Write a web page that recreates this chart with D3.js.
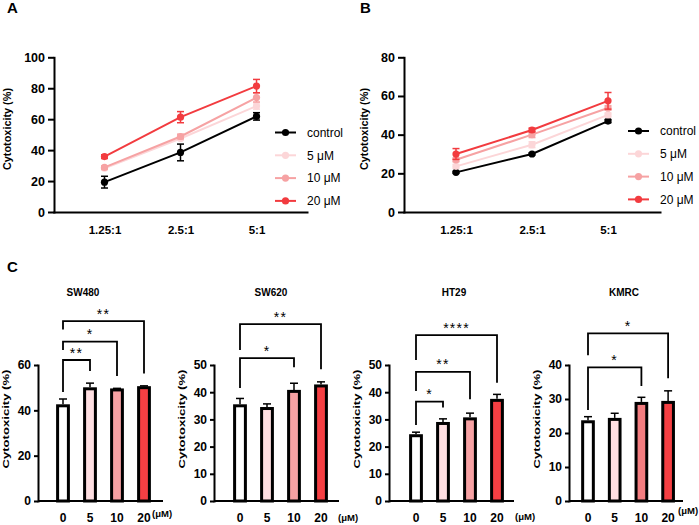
<!DOCTYPE html>
<html>
<head>
<meta charset="utf-8">
<script src="https://cdn.jsdelivr.net/npm/d3@7"></script>
<style>
  body { margin: 0; background: #fff; }
  text { font-family: "Liberation Sans", Arial, sans-serif; }
</style>
</head>
<body>
<div id="chart"></div>
<script>
// ---- data ----
let ratios = ["1.25:1", "2.5:1", "5:1"];
let groups = ["control", "5 μM", "10 μM", "20 μM"];

// panel A (mean, error) per group, per ratio
let aMean = [[19.3, 38.5, 61.8], [28.3, 47.5, 68.5], [28.8, 48.8, 74], [35.8, 61.3, 81.4]];
let aErr  = [[3.8, 5.4, 2.4], [1, 1, 2], [1, 1.5, 2.9], [1.2, 3.6, 4.3]];
// panel B
let bMean = [[20.5, 30, 47], [23.6, 34.8, 50.2], [27, 40, 53.8], [30, 42.4, 57.5]];
let bErr  = [[0.5, 0.5, 0.8], [1, 1.5, 1], [1, 1.5, 1.2], [2.8, 1, 4.3]];

// panel C
let doses = ["0", "5", "10", "20"];
let cellLines = ["SW480", "SW620", "HT29", "KMRC"];
let barMean = [[42, 49.5, 49, 50], [35, 34, 40.3, 42.3], [24, 28.5, 30.2, 37], [23.3, 24, 28.7, 29]];
let barErr  = [[3, 2.5, 0.7, 0.8], [2.7, 1.7, 3, 1.5], [1.3, 1.7, 2.1, 2.2], [1.5, 1.8, 1.8, 3.4]];
let barMax  = [60, 50, 50, 40];
let barStep = [20, 10, 10, 10];
// significance brackets: from dose a to dose b, bar height y, leg ends l / r (data units)
let sig = [
  [{a: "0", b: "5", label: "**", y: 62.2, l: 48.1, r: 57.4},
   {a: "0", b: "10", label: "*", y: 70.3, l: 66.6, r: 55.1},
   {a: "0", b: "20", label: "**", y: 79.4, l: 75.7, r: 56.3}],
  [{a: "0", b: "10", label: "*", y: 52.5, l: 41.5, r: 49.2},
   {a: "0", b: "20", label: "**", y: 65, l: 55.5, r: 48.4}],
  [{a: "0", b: "5", label: "*", y: 36.5, l: 27.9, r: 34.4},
   {a: "0", b: "10", label: "**", y: 47.5, l: 40.4, r: 37.4},
   {a: "0", b: "20", label: "****", y: 61, l: 51.8, r: 43.5}],
  [{a: "0", b: "10", label: "*", y: 39.3, l: 26.8, r: 33.8},
   {a: "0", b: "20", label: "*", y: 49.3, l: 42.9, r: 36.1}]
];

// ---- styles ----
let lineColors = ["#000000", "#fcd6d8", "#f6a2a3", "#f23b3f"];
let barFills = [
  ["#ffffff", "#ffdfe2", "#f7a1a3", "#f53f43"],
  ["#ffffff", "#ffdfe2", "#f7a1a3", "#f53f43"],
  ["#ffffff", "#ffdfe2", "#f7a1a3", "#f53f43"],
  ["#ffffff", "#ffdfe2", "#f47d80", "#f53f43"]
];

let svg = d3.select("#chart")
  .append("svg")
  .attr("width", 699)
  .attr("height", 525)
  .style("background", "#fff");

function styleAxis(g, size) {
  g.select(".domain").attr("stroke", "#000").attr("stroke-width", 2).attr("stroke-linecap", "square");
  g.selectAll(".tick line").attr("stroke", "#000").attr("stroke-width", 2);
  g.selectAll(".tick text")
    .attr("fill", "#000")
    .style("font-size", size + "px")
    .style("font-weight", "bold")
    .style("font-family", "'Liberation Sans', Arial, sans-serif");
}

function panelLetter(t, x, y) {
  svg.append("text").attr("x", x).attr("y", y).text(t)
    .style("font-size", "15px").style("font-weight", "bold");
}

// ---- line panels ----
function linePanel(p) {
  let top = 57.3, bottom = 212;
  let x = d3.scalePoint().domain(ratios).range([p.x0, p.x1]).padding(p.pad);
  let y = d3.scaleLinear().domain([0, p.yMax]).range([bottom, top]);

  let gy = svg.append("g")
    .attr("transform", "translate(" + p.x0 + ",0)")
    .call(d3.axisLeft(y).tickValues(d3.range(0, p.yMax + 1, 20)).tickSize(6).tickPadding(3).tickSizeOuter(0));
  styleAxis(gy, 12.5);

  let gx = svg.append("g")
    .attr("transform", "translate(0," + bottom + ")")
    .call(d3.axisBottom(x).tickSize(0).tickPadding(13.5).tickSizeOuter(0));
  styleAxis(gx, 11.5);

  svg.append("text")
    .attr("transform", "translate(" + p.titleX + "," + 129 + ") rotate(-90)")
    .attr("text-anchor", "middle")
    .attr("dy", "0.35em")
    .attr("textLength", 82)
    .attr("lengthAdjust", "spacingAndGlyphs")
    .style("font-size", "10px").style("font-weight", "bold")
    .text("Cytotoxicity (%)");

  let line = d3.line().x((d, i) => x(ratios[i])).y((d) => y(d));

  groups.forEach((gname, gi) => {
    let c = lineColors[gi];
    let g = svg.append("g");
    g.append("path")
      .datum(p.mean[gi])
      .attr("d", line)
      .attr("fill", "none")
      .attr("stroke", c)
      .attr("stroke-width", 2);
    p.mean[gi].forEach((m, i) => {
      let cx = x(ratios[i]);
      let e = p.err[gi][i];
      g.append("line").attr("x1", cx).attr("x2", cx).attr("y1", y(m - e)).attr("y2", y(m + e))
        .attr("stroke", c).attr("stroke-width", 1.5);
      [m - e, m + e].forEach((v) => {
        g.append("line").attr("x1", cx - 3.5).attr("x2", cx + 3.5).attr("y1", y(v)).attr("y2", y(v))
          .attr("stroke", c).attr("stroke-width", 1.5);
      });
      g.append("circle").attr("cx", cx).attr("cy", y(m)).attr("r", 3.6).attr("fill", c);
    });

    // legend
    let ly = p.legY + gi * 22.8;
    svg.append("line").attr("x1", p.legX).attr("x2", p.legX + 21).attr("y1", ly).attr("y2", ly)
      .attr("stroke", c).attr("stroke-width", 2);
    svg.append("circle").attr("cx", p.legX + 10.5).attr("cy", ly).attr("r", 3.6).attr("fill", c);
    svg.append("text").attr("x", p.legX + 32).attr("y", ly).attr("dy", "0.35em")
      .style("font-size", "12px").text(gname);
  });
}

panelLetter("A", 7, 13);
panelLetter("B", 360, 13);
panelLetter("C", 7, 272);

linePanel({x0: 54, x1: 307, pad: 0.664, yMax: 100, mean: aMean, err: aErr, titleX: 7, legX: 275, legY: 132.5});
linePanel({x0: 404, x1: 660, pad: 0.684, yMax: 80, mean: bMean, err: bErr, titleX: 364, legX: 628, legY: 131});

// ---- bar panels ----
let barLayout = [
  {x0: 38, first: 63, step: 27, end: 163, titleX: 83, um: [152, 514]},
  {x0: 214, first: 240, step: 27, end: 339, titleX: 271, um: [338, 518]},
  {x0: 389, first: 416, step: 27, end: 514, titleX: 454, um: [515, 517]},
  {x0: 569, first: 588, step: 26.7, end: 683, titleX: 624, um: [678, 511]}
];

cellLines.forEach((name, ci) => {
  let L = barLayout[ci];
  let bottom = 501, top = 365;
  let y = d3.scaleLinear().domain([0, barMax[ci]]).range([bottom, top]);
  let x = d3.scaleBand().domain(doses)
    .range([L.first - L.step / 2, L.first - L.step / 2 + L.step * doses.length])
    .paddingInner(0.6).paddingOuter(0.3);
  let bw = x.bandwidth();
  let cx = (d) => x(d) + bw / 2;

  svg.append("text").attr("x", L.titleX).attr("y", 295.5).attr("text-anchor", "middle")
    .style("font-size", "10px").style("font-weight", "bold").text(name);

  let gy = svg.append("g")
    .attr("transform", "translate(" + L.x0 + ",0)")
    .call(d3.axisLeft(y).tickValues(d3.range(0, barMax[ci] + 1, barStep[ci])).tickSize(4).tickPadding(3).tickSizeOuter(0));
  styleAxis(gy, 12);

  svg.append("text")
    .attr("transform", "translate(" + (L.x0 - 32) + "," + 419 + ") rotate(-90)")
    .attr("text-anchor", "middle")
    .attr("dy", "0.35em")
    .attr("textLength", 99)
    .attr("lengthAdjust", "spacingAndGlyphs")
    .style("font-size", "9.5px").style("font-weight", "bold")
    .text("Cytotoxicity (%)");

  // bars
  svg.append("g").selectAll("rect")
    .data(barMean[ci])
    .enter()
    .append("rect")
    .attr("x", (d, i) => x(doses[i]))
    .attr("y", (d) => y(d))
    .attr("width", bw)
    .attr("height", (d) => bottom - y(d))
    .attr("fill", (d, i) => barFills[ci][i])
    .attr("stroke", "#000")
    .attr("stroke-width", 3);

  // upper error bars
  barMean[ci].forEach((m, i) => {
    let px = cx(doses[i]);
    let e = barErr[ci][i];
    svg.append("line").attr("x1", px).attr("x2", px).attr("y1", y(m) - 1.5).attr("y2", y(m + e))
      .attr("stroke", "#000").attr("stroke-width", 1.5);
    svg.append("line").attr("x1", px - 4).attr("x2", px + 4).attr("y1", y(m + e)).attr("y2", y(m + e))
      .attr("stroke", "#000").attr("stroke-width", 1.5);
  });

  // baseline
  svg.append("line").attr("x1", L.x0).attr("x2", L.end).attr("y1", bottom).attr("y2", bottom)
    .attr("stroke", "#000").attr("stroke-width", 2);

  let gx = svg.append("g")
    .attr("transform", "translate(0," + bottom + ")")
    .call(d3.axisBottom(x).tickSize(0).tickPadding(12.5));
  gx.select(".domain").remove();
  styleAxis(gx, 12);

  svg.append("text").attr("x", L.um[0]).attr("y", L.um[1]).attr("dy", "0.35em")
    .style("font-size", "9.5px").style("font-weight", "bold").text("(μM)");

  // significance brackets
  sig[ci].forEach((s) => {
    let xa = cx(s.a), xb = cx(s.b);
    svg.append("path")
      .attr("d", "M" + xa + "," + y(s.l) + "V" + y(s.y) + "H" + xb + "V" + y(s.r))
      .attr("fill", "none").attr("stroke", "#000").attr("stroke-width", 1.8);
    svg.append("text").attr("x", (xa + xb) / 2).attr("y", y(s.y) - 2.5)
      .attr("text-anchor", "middle")
      .style("font-size", "14px").style("letter-spacing", "1.2px")
      .text(s.label);
  });
});
</script>
</body>
</html>
